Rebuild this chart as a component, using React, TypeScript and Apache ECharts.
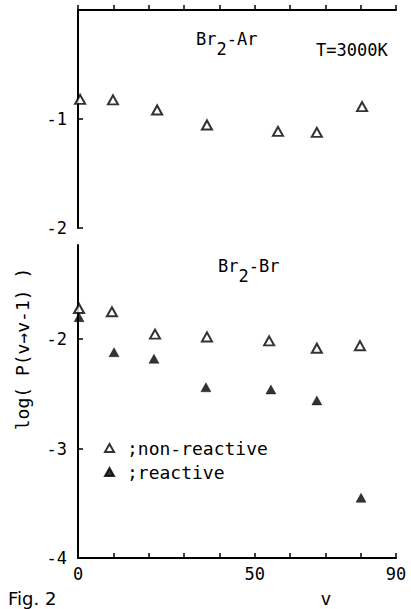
import React, { useEffect, useRef } from 'react';
import * as echarts from 'echarts';

// Top panel: Br2-Ar, non-reactive
const vTop = [0.6, 9.9, 22.4, 36.5, 56.6, 67.6, 80.4];
const logPTop = [-0.82, -0.825, -0.917, -1.055, -1.114, -1.123, -0.886];
// Bottom panel: Br2-Br
const vNonReactive = [0.3, 9.6, 21.8, 36.5, 54.1, 67.6, 79.8];
const logPNonReactive = [-1.72, -1.75, -1.954, -1.98, -2.016, -2.083, -2.06];
const vReactive = [0.3, 10.2, 21.5, 36.2, 54.6, 67.6, 80.1];
const logPReactive = [-1.8, -2.12, -2.18, -2.44, -2.46, -2.56, -3.45];

const xTickLabels = [0, 50, 90];
const yTickLabelsTop = [-2, -1];
const yTickLabelsBottom = [-4, -3, -2];

const MONO = '"DejaVu Sans Mono", monospace';
const INK = '#000';

function zip(a: number[], b: number[]) {
  return a.map((v, i) => [v, b[i]]);
}

export default function App() {
  const ref = useRef<HTMLDivElement>(null);
  useEffect(() => {
    document.body.style.margin = '0';
    const chart = echarts.init(ref.current!, null, { renderer: 'svg' });
    const axisLine = { show: true, lineStyle: { color: INK, width: 2 } };
    const axisTick = { show: true, inside: true, length: 5, lineStyle: { color: INK, width: 1.5 } };
    const openStyle = { color: '#fff', borderColor: INK, borderWidth: 2 };
    const filledStyle = { color: INK, borderColor: INK, borderWidth: 0.5 };
    chart.setOption({
      animation: false,
      backgroundColor: '#fff',
      grid: [
        { left: 78, top: 10, width: 318, height: 218 },
        { left: 78, top: 245, width: 318, height: 313 },
      ],
      xAxis: [
        {
          type: 'value', gridIndex: 0, min: 0, max: 90, interval: 10,
          axisLine, axisTick, splitLine: { show: false },
          axisLabel: { show: false },
        },
        {
          type: 'value', gridIndex: 1, min: 0, max: 90, interval: 10,
          axisLine, axisTick, splitLine: { show: false },
          axisLabel: {
            show: true, customValues: xTickLabels, margin: 7,
            color: INK, fontFamily: MONO, fontSize: 17,
          },
        },
      ],
      yAxis: [
        {
          type: 'value', gridIndex: 0, min: -2, max: 0, interval: 1,
          axisLine, splitLine: { show: false },
          axisTick: { ...axisTick, customValues: yTickLabelsTop },
          axisLabel: {
            customValues: yTickLabelsTop, margin: 11,
            color: INK, fontFamily: MONO, fontSize: 17,
          },
        },
        {
          type: 'value', gridIndex: 1, min: -4, max: -1.14, interval: 1,
          axisLine, splitLine: { show: false },
          axisTick: { ...axisTick, customValues: yTickLabelsBottom },
          axisLabel: {
            customValues: yTickLabelsBottom, margin: 11,
            color: INK, fontFamily: MONO, fontSize: 17,
          },
        },
      ],
      legend: {
        data: [
          { name: 'non-reactive', icon: 'triangle' },
          { name: 'reactive', icon: 'triangle' },
        ],
        orient: 'vertical',
        left: 99,
        top: 434,
        itemWidth: 9,
        itemHeight: 8,
        itemGap: 6,
        selectedMode: false,
        formatter: ';{name}',
        textStyle: { color: INK, fontFamily: MONO, fontSize: 18, lineHeight: 18, padding: [0, 0, 0, 8] },
      },
      series: [
        {
          name: 'Br2-Ar', type: 'scatter', xAxisIndex: 0, yAxisIndex: 0,
          symbol: 'triangle', symbolSize: [10, 9], itemStyle: openStyle,
          data: zip(vTop, logPTop),
        },
        {
          name: 'reactive', type: 'scatter', xAxisIndex: 1, yAxisIndex: 1,
          symbol: 'triangle', symbolSize: [10, 9], itemStyle: filledStyle,
          data: zip(vReactive, logPReactive),
        },
        {
          name: 'non-reactive', type: 'scatter', xAxisIndex: 1, yAxisIndex: 1,
          symbol: 'triangle', symbolSize: [10, 9], itemStyle: openStyle,
          data: zip(vNonReactive, logPNonReactive),
        },
      ],
      graphic: [
        { type: 'text', x: 196, y: 39, style: { text: 'Br', fontFamily: MONO, fontSize: 17, fill: INK, verticalAlign: 'middle' } },
        { type: 'text', x: 216.5, y: 49, style: { text: '2', fontFamily: MONO, fontSize: 17, fill: INK, verticalAlign: 'middle' } },
        { type: 'text', x: 226.7, y: 39, style: { text: '-Ar', fontFamily: MONO, fontSize: 17, fill: INK, verticalAlign: 'middle' } },
        { type: 'text', x: 316, y: 50, style: { text: 'T=3000K', fontFamily: MONO, fontSize: 17, fill: INK, verticalAlign: 'middle' } },
        { type: 'text', x: 218, y: 266, style: { text: 'Br', fontFamily: MONO, fontSize: 17, fill: INK, verticalAlign: 'middle' } },
        { type: 'text', x: 238.5, y: 276, style: { text: '2', fontFamily: MONO, fontSize: 17, fill: INK, verticalAlign: 'middle' } },
        { type: 'text', x: 248.7, y: 266, style: { text: '-Br', fontFamily: MONO, fontSize: 17, fill: INK, verticalAlign: 'middle' } },
        {
          type: 'text', x: 22, y: 349, rotation: Math.PI / 2,
          style: { text: 'log( P(v→v-1) )', fontFamily: MONO, fontSize: 18, fill: INK, align: 'center', verticalAlign: 'middle' },
        },
        { type: 'text', x: 8, y: 598, style: { text: 'Fig. 2', fontFamily: '"DejaVu Sans", sans-serif', fontSize: 18, fill: INK, verticalAlign: 'middle' } },
        { type: 'text', x: 326, y: 598, style: { text: 'v', fontFamily: MONO, fontSize: 18, fill: INK, align: 'center', verticalAlign: 'middle' } },
      ],
    });
    return () => chart.dispose();
  }, []);
  return <div ref={ref} style={{ width: 411, height: 609 }} />;
}
